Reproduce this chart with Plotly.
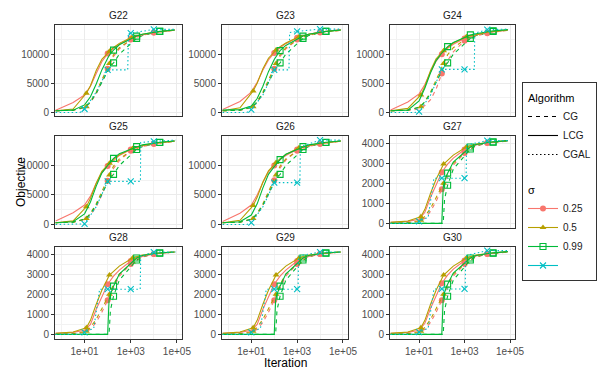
import plotly.graph_objects as go

PANELS = ["G22", "G23", "G24", "G25", "G26", "G27", "G28", "G29", "G30"]

# iteration grids (one per sigma) and where the markers sit
X_025 = [0.56, 3.2, 10, 18, 32, 56, 100, 180, 320, 1000, 3200, 10000, 80000]
X_05 = [0.56, 3.2, 12, 18, 32, 56, 120, 180, 320, 1200, 3200, 10000, 80000]
X_099 = [0.56, 3.2, 10, 18, 32, 56, 100, 115, 132, 180, 320, 1800, 3200, 18000, 80000]
MARK_025 = [100, 1000, 10000]
MARK_05 = [12, 120, 1200]
MARK_099 = [180, 1800, 18000]
MARK_CGAL = [10, 100, 1000, 10000]

# LCG (solid)
LCG_025 = {
    "G22": [400, 1700, 3000, 4500, 6700, 8700, 10100, 11000, 11700, 12700, 13300, 13700, 14150],
    "G23": [500, 1900, 3500, 5200, 7300, 9000, 10200, 11100, 11800, 12800, 13400, 13800, 14200],
    "G24": [450, 1800, 3200, 4800, 7000, 8800, 10000, 11000, 11700, 12700, 13300, 13700, 14150],
    "G25": [570, 2000, 3300, 4800, 7000, 8800, 9900, 10900, 11700, 12700, 13300, 13700, 14150],
    "G26": [500, 1900, 3300, 5000, 7100, 8900, 10000, 11000, 11700, 12700, 13300, 13700, 14150],
    "G27": [50, 100, 200, 550, 1300, 1950, 2550, 2950, 3250, 3680, 3900, 4010, 4120],
    "G28": [50, 100, 200, 500, 1250, 1900, 2500, 2900, 3200, 3650, 3880, 4000, 4100],
    "G29": [50, 100, 200, 500, 1250, 1900, 2500, 2900, 3200, 3650, 3880, 4000, 4100],
    "G30": [50, 100, 200, 550, 1300, 1950, 2550, 2950, 3250, 3680, 3900, 4010, 4120],
}
LCG_05 = {
    "G22": [300, 600, 3300, 4600, 7200, 9100, 10500, 11150, 11850, 13000, 13400, 13750, 14150],
    "G23": [300, 800, 3700, 5000, 7500, 9300, 10700, 11300, 11900, 13000, 13400, 13750, 14150],
    "G24": [300, 700, 3000, 4500, 7200, 9200, 10600, 11200, 11900, 13000, 13400, 13750, 14150],
    "G25": [300, 600, 3000, 4400, 7000, 9000, 10400, 11100, 11800, 12900, 13400, 13750, 14150],
    "G26": [300, 700, 3200, 4600, 7200, 9100, 10500, 11150, 11850, 13000, 13400, 13750, 14150],
    "G27": [50, 120, 330, 700, 1500, 2200, 2950, 3150, 3400, 3800, 3950, 4030, 4120],
    "G28": [50, 120, 330, 700, 1500, 2200, 2950, 3150, 3400, 3800, 3950, 4030, 4100],
    "G29": [50, 120, 330, 700, 1500, 2200, 2950, 3150, 3400, 3800, 3950, 4030, 4100],
    "G30": [50, 120, 330, 700, 1500, 2200, 2950, 3150, 3400, 3800, 3950, 4030, 4120],
}
LCG_099 = {
    "G22": [300, 400, 1300, 2700, 4900, 7300, 9300, 9700, 10100, 10700, 11600, 13100, 13400, 13900, 14150],
    "G23": [400, 500, 1100, 2400, 4500, 7000, 9100, 9500, 9900, 10600, 11500, 13100, 13400, 13900, 14150],
    "G24": [300, 400, 2000, 4200, 6800, 8900, 10200, 10450, 10700, 11300, 12000, 13300, 13500, 14000, 14200],
    "G25": [300, 450, 1800, 3800, 6500, 8700, 10000, 10300, 10600, 11200, 12000, 13200, 13500, 13950, 14150],
    "G26": [300, 450, 1600, 3500, 6200, 8500, 9800, 10100, 10400, 11000, 11900, 13200, 13500, 13950, 14150],
    "G27": [0, 0, 0, 0, 0, 0, 0, 1800, 2100, 2500, 3050, 3800, 3930, 4060, 4120],
    "G28": [0, 0, 0, 0, 0, 0, 0, 1700, 2000, 2400, 3000, 3800, 3930, 4060, 4100],
    "G29": [0, 0, 0, 0, 0, 0, 0, 1700, 2000, 2400, 3000, 3800, 3930, 4060, 4100],
    "G30": [0, 0, 0, 0, 0, 0, 0, 1800, 2100, 2500, 3050, 3800, 3930, 4060, 4120],
}

# CG (dashed)
CG_025 = {
    "G22": [300, 400, 800, 1700, 3200, 5200, 7500, 9600, 10900, 12500, 13200, 13700, 14100],
    "G23": [300, 400, 800, 1700, 3200, 5200, 7500, 9600, 10900, 12500, 13200, 13700, 14100],
    "G24": [300, 350, 600, 1200, 2200, 4000, 6700, 8900, 10400, 12300, 13100, 13600, 14100],
    "G25": [300, 400, 800, 1600, 3000, 5000, 7400, 9500, 10800, 12500, 13200, 13700, 14100],
    "G26": [300, 400, 800, 1700, 3200, 5200, 7500, 9600, 10900, 12500, 13200, 13700, 14100],
    "G27": [0, 30, 100, 250, 600, 1100, 1700, 2300, 2900, 3500, 3850, 4000, 4100],
    "G28": [0, 30, 100, 250, 600, 1100, 1700, 2300, 2900, 3500, 3850, 4000, 4100],
    "G29": [0, 30, 100, 250, 600, 1100, 1700, 2300, 2900, 3500, 3850, 4000, 4100],
    "G30": [0, 30, 100, 250, 600, 1100, 1700, 2300, 2900, 3500, 3850, 4000, 4100],
}
CG_05 = {
    "G22": [300, 400, 1000, 1900, 3500, 5600, 8400, 9900, 11100, 12700, 13300, 13700, 14100],
    "G23": [300, 400, 1000, 1900, 3500, 5600, 8400, 9900, 11100, 12700, 13300, 13700, 14100],
    "G24": [300, 400, 1000, 1900, 3500, 5600, 8400, 9900, 11100, 12700, 13300, 13700, 14100],
    "G25": [300, 400, 1000, 1900, 3500, 5600, 8400, 9900, 11100, 12700, 13300, 13700, 14100],
    "G26": [300, 400, 1000, 1900, 3500, 5600, 8400, 9900, 11100, 12700, 13300, 13700, 14100],
    "G27": [0, 40, 150, 350, 750, 1300, 2000, 2500, 3000, 3600, 3880, 4010, 4100],
    "G28": [0, 40, 150, 350, 750, 1300, 2000, 2500, 3000, 3600, 3880, 4010, 4100],
    "G29": [0, 40, 150, 350, 750, 1300, 2000, 2500, 3000, 3600, 3880, 4010, 4100],
    "G30": [0, 40, 150, 350, 750, 1300, 2000, 2500, 3000, 3600, 3880, 4010, 4100],
}
CG_099 = {
    "G22": [300, 400, 900, 1800, 3300, 5200, 7300, 7700, 8000, 8500, 10000, 12700, 13200, 13900, 14150],
    "G23": [300, 400, 900, 1800, 3300, 5200, 7300, 7700, 8000, 8500, 10000, 12700, 13200, 13900, 14150],
    "G24": [300, 400, 900, 1800, 3300, 5200, 7300, 7700, 8000, 8500, 10000, 12700, 13200, 13900, 14150],
    "G25": [300, 400, 900, 1800, 3300, 5200, 7300, 7700, 8000, 8500, 10000, 12700, 13200, 13900, 14150],
    "G26": [300, 400, 900, 1800, 3300, 5200, 7300, 7700, 8000, 8500, 10000, 12700, 13200, 13900, 14150],
    "G27": [0, 0, 0, 0, 0, 0, 0, 0, 1200, 1900, 2700, 3700, 3880, 4040, 4100],
    "G28": [0, 0, 0, 0, 0, 0, 0, 0, 1200, 1900, 2700, 3700, 3880, 4040, 4100],
    "G29": [0, 0, 0, 0, 0, 0, 0, 0, 1200, 1900, 2700, 3700, 3880, 4040, 4100],
    "G30": [0, 0, 0, 0, 0, 0, 0, 0, 1200, 1900, 2700, 3700, 3880, 4040, 4100],
}

# CGAL (dotted), sigma NA
CGAL_X = {
    "G22": [0.56, 6.3, 10, 32, 100, 740, 800, 1000, 10000, 89000],
    "G23": [0.56, 6.3, 10, 32, 100, 440, 470, 1000, 10000, 89000],
    "G24": [0.56, 6.3, 10, 32, 100, 1000, 2700, 2800, 10000, 89000],
    "G25": [0.56, 6.3, 10, 32, 100, 1000, 2630, 2700, 10000, 89000],
    "G26": [0.56, 6.3, 10, 32, 100, 1000, 1320, 1380, 10000, 89000],
    "G27": [0.56, 7.9, 10, 25, 45, 100, 1000, 1170, 1230, 10000, 89000],
    "G28": [0.56, 7.9, 10, 25, 45, 100, 1000, 2570, 2700, 10000, 89000],
    "G29": [0.56, 7.9, 10, 25, 45, 100, 1000, 1100, 1150, 10000, 89000],
    "G30": [0.56, 7.9, 10, 25, 45, 100, 1000, 1070, 1120, 10000, 89000],
}
CGAL_Y = {
    "G22": [0, 0, 600, 3500, 7300, 7300, 13500, 13600, 14250, 14250],
    "G23": [0, 0, 500, 3000, 7300, 7300, 13700, 13900, 14300, 14300],
    "G24": [0, 0, 150, 3000, 7400, 7400, 7400, 13600, 14200, 14300],
    "G25": [0, 0, 100, 3000, 7300, 7300, 7300, 13900, 14100, 14300],
    "G26": [0, 0, 300, 3000, 7100, 7100, 7100, 13200, 14300, 14300],
    "G27": [0, 0, 100, 300, 2250, 2250, 2250, 2250, 3900, 4120, 4120],
    "G28": [0, 0, 100, 300, 2250, 2250, 2250, 2250, 3900, 4100, 4100],
    "G29": [0, 0, 100, 300, 2250, 2250, 2250, 2250, 3900, 4100, 4100],
    "G30": [0, 0, 110, 300, 2260, 2260, 2260, 2260, 3920, 4170, 4170],
}

BIG = ["G22", "G23", "G24", "G25", "G26"]

COL = {"0.25": "#F8766D", "0.5": "#B79F00", "0.99": "#00BA38", "NA": "#00BFC4"}
SYM = {"0.25": "circle", "0.5": "triangle-up", "0.99": "square-open", "NA": "x-thin-open"}
DASH = {"CG": "4px,4px", "LCG": "solid", "CGAL": "1.5px,2.5px"}

W, H = 600, 375
COLS = [(55, 182), (222, 348), (390, 515)]
ROWS = [(25, 116), (136, 228), (247, 339)]

fig = go.Figure()
layout = {}
notes = []


def add_curve(xs, ys, marks, sigma, alg, xa, ya):
    fig.add_trace(go.Scatter(
        x=xs, y=ys, mode="lines", xaxis=xa, yaxis=ya, showlegend=False,
        line=dict(color=COL[sigma], width=1.1, dash=DASH[alg]),
        hoverinfo="skip"))
    mx = [x for x in xs if x in marks]
    my = [y for x, y in zip(xs, ys) if x in marks]
    is_open = SYM[sigma].endswith("open")
    fig.add_trace(go.Scatter(
        x=mx, y=my, mode="markers", xaxis=xa, yaxis=ya, showlegend=False,
        marker=dict(symbol=SYM[sigma], size=6, color=COL[sigma],
                    line=dict(color=COL[sigma], width=1.1 if is_open else 0)),
        hoverinfo="skip"))


for i, p in enumerate(PANELS):
    r, c = divmod(i, 3)
    n = "" if i == 0 else str(i + 1)
    xa, ya = "x" + n, "y" + n

    add_curve(X_025, CG_025[p], MARK_025, "0.25", "CG", xa, ya)
    add_curve(X_05, CG_05[p], MARK_05, "0.5", "CG", xa, ya)
    add_curve(X_099, CG_099[p], MARK_099, "0.99", "CG", xa, ya)
    add_curve(X_025, LCG_025[p], MARK_025, "0.25", "LCG", xa, ya)
    add_curve(X_05, LCG_05[p], MARK_05, "0.5", "LCG", xa, ya)
    add_curve(X_099, LCG_099[p], MARK_099, "0.99", "LCG", xa, ya)
    add_curve(CGAL_X[p], CGAL_Y[p], MARK_CGAL, "NA", "CGAL", xa, ya)

    x0, x1 = COLS[c]
    y0, y1 = ROWS[r]
    bottom = r == 2
    layout["xaxis" + n] = dict(
        domain=[x0 / W, x1 / W], anchor=ya, type="log", range=[-0.28, 5.22],
        tickmode="array", tickvals=[10, 1000, 100000],
        ticktext=["1e+01", "1e+03", "1e+05"], showticklabels=bottom,
        ticks="outside" if bottom else "", ticklen=3, tickcolor="#333333",
        tickfont=dict(size=10, color="#4D4D4D"), automargin=False,
        showgrid=True, gridcolor="#EBEBEB", gridwidth=1,
        minor=dict(tickmode="array", tickvals=[1, 100, 10000], showgrid=True,
                   gridcolor="#F2F2F2", gridwidth=0.6, ticks=""),
        showline=True, mirror=True, linecolor="#333333", linewidth=1,
        zeroline=False, fixedrange=True)
    if p in BIG:
        yr, yt, ym = [-600, 15000], [0, 5000, 10000], [2500, 7500, 12500]
    else:
        yr, yt, ym = [-230, 4350], [0, 1000, 2000, 3000, 4000], [500, 1500, 2500, 3500]
    layout["yaxis" + n] = dict(
        domain=[1 - y1 / H, 1 - y0 / H], anchor=xa, range=yr,
        tickmode="array", tickvals=yt, ticktext=[str(v) for v in yt],
        ticks="outside", ticklen=3, automargin=False,
        tickcolor="#333333", tickfont=dict(size=10, color="#4D4D4D"),
        showgrid=True, gridcolor="#EBEBEB", gridwidth=1,
        minor=dict(tickmode="array", tickvals=ym, showgrid=True,
                   gridcolor="#F2F2F2", gridwidth=0.6, ticks=""),
        showline=True, mirror=True, linecolor="#333333", linewidth=1,
        zeroline=False, fixedrange=True)
    notes.append(dict(
        text=p, x=(x0 + x1) / 2 / W, y=1 - (y0 - 10) / H, xref="paper",
        yref="paper", showarrow=False, xanchor="center", yanchor="middle",
        font=dict(size=10, color="#1A1A1A")))

# legend entries
for alg in ["CG", "LCG", "CGAL"]:
    fig.add_trace(go.Scatter(
        x=[None], y=[None], mode="lines", name=alg, legendgroup="alg",
        legendgrouptitle_text="Algorithm",
        line=dict(color="#000000", width=1.1, dash=DASH[alg])))
for sigma in ["0.25", "0.5", "0.99", "NA"]:
    is_open = SYM[sigma].endswith("open")
    fig.add_trace(go.Scatter(
        x=[None], y=[None], mode="lines+markers",
        name="" if sigma == "NA" else sigma, legendgroup="sig",
        legendgrouptitle_text="σ",
        line=dict(color=COL[sigma], width=1.1),
        marker=dict(symbol=SYM[sigma], size=6, color=COL[sigma],
                    line=dict(color=COL[sigma], width=1.1 if is_open else 0))))

notes.append(dict(text="Iteration", x=285 / W, y=1 - 363 / H, xref="paper",
                  yref="paper", showarrow=False, yanchor="middle",
                  font=dict(size=12, color="#000000")))
notes.append(dict(text="Objective", x=12 / W, y=1 - 182 / H, xref="paper",
                  yref="paper", showarrow=False, textangle=-90,
                  font=dict(size=12, color="#000000")))

fig.update_layout(
    width=W, height=H, margin=dict(l=0, r=0, t=0, b=0, autoexpand=False),
    paper_bgcolor="white", plot_bgcolor="white",
    font=dict(family="Liberation Sans, Arial, sans-serif"),
    annotations=notes,
    legend=dict(x=597 / W, y=1 - 82 / H, xanchor="right", yanchor="top",
                bordercolor="#333333", borderwidth=1, bgcolor="white",
                font=dict(size=10, color="#1A1A1A"),
                grouptitlefont=dict(size=11, color="#000000"),
                traceorder="grouped", tracegroupgap=16, itemwidth=30),
    **layout)

fig.write_html("out.html", config={"displayModeBar": False},
               post_script="document.body.style.margin = '0px';")
